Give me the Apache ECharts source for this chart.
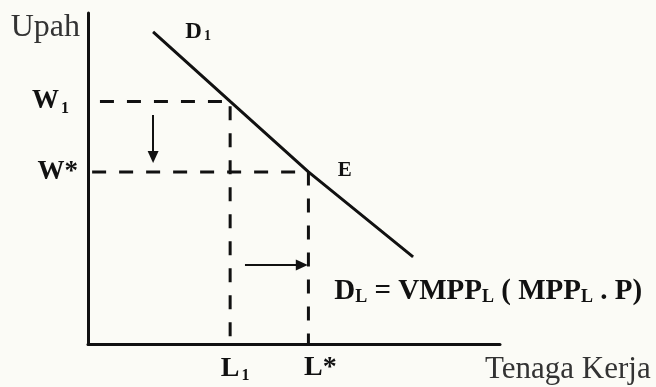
<!DOCTYPE html>
<html>
<head>
<meta charset="utf-8">
<script src="https://cdn.jsdelivr.net/npm/echarts@6/dist/echarts.min.js"></script>
<style>
  html, body { margin: 0; padding: 0; background: #fbfbf6; }
  #chart { width: 656px; height: 387px; }
</style>
</head>
<body>
<div id="chart"></div>
<script>
// values (axes run 0..10 on both sides)
const demandCurve = [[1.58, 9.43], [3.45, 7.33], [5.35, 5.2], [7.89, 2.63]];
const wageTicks = [7.33, 5.2];          // W1, W*
const wageLabels = ["W{s|1}{sp| }", "W*"];
const laborTicks = [3.45, 5.35];        // L1, L*
const laborLabels = ["{sp| }L{s|1}", "{sq| }L*"];
const guideStart = [0.29, 0.1];         // where the dashed wage lines begin
const wageDrop = [[1.58, 6.92], [1.58, 5.65]];
const laborShift = [[3.81, 2.39], [5.19, 2.39]];

const serif = "'Liberation Serif', 'Times New Roman', serif";
const ink = "#111";

const chart = echarts.init(document.getElementById("chart"));

const guides = wageTicks.map((w, i) => ({
  type: "line",
  silent: true,
  symbol: "none",
  lineStyle: { color: ink, width: 3, type: [14, 13] },
  data: [[guideStart[i], w], [laborTicks[i], w], [laborTicks[i], 0]],
}));

const option = {
  backgroundColor: "#fbfbf6",
  animation: false,
  grid: { left: 88, right: 156, top: 13, bottom: 43 },
  xAxis: {
    type: "value",
    min: 0,
    max: 10,
    name: "Tenaga Kerja",
    nameLocation: "end",
    nameGap: -15,
    nameTextStyle: {
      fontFamily: serif,
      fontSize: 31,
      color: "#333",
      align: "left",
      verticalAlign: "top",
      padding: [10, 0, 0, 0],
    },
    axisLine: { show: true, onZero: false, lineStyle: { color: ink, width: 3 } },
    axisTick: { show: false },
    splitLine: { show: false },
    axisLabel: {
      customValues: laborTicks,
      margin: 10,
      fontFamily: serif,
      fontWeight: "bold",
      fontSize: 28,
      color: ink,
      formatter: (v) => laborLabels[laborTicks.indexOf(v)] || "",
      rich: {
        s: { fontFamily: serif, fontWeight: "bold", fontSize: 16, padding: [14, 0, 0, 2] },
        sp: { width: 10 },
        sq: { width: 24 },
      },
    },
  },
  yAxis: {
    type: "value",
    min: 0,
    max: 10,
    name: "Upah",
    nameLocation: "end",
    nameGap: -15,
    nameTextStyle: {
      fontFamily: serif,
      fontSize: 32,
      color: "#333",
      align: "right",
      verticalAlign: "middle",
      padding: [0, 8, 0, 0],
    },
    axisLine: { show: true, onZero: false, lineStyle: { color: ink, width: 3 } },
    axisTick: { show: false },
    splitLine: { show: false },
    axisLabel: {
      customValues: wageTicks,
      margin: 10,
      fontFamily: serif,
      fontWeight: "bold",
      fontSize: 27,
      color: ink,
      formatter: (v) => wageLabels[wageTicks.indexOf(v)] || "",
      rich: {
        s: { fontFamily: serif, fontWeight: "bold", fontSize: 16, padding: [14, 0, 0, 2] },
        sp: { width: 9 },
      },
    },
  },
  series: [
    ...guides,
    {
      type: "line",
      silent: true,
      symbol: "none",
      lineStyle: { color: ink, width: 3 },
      data: demandCurve,
      markLine: {
        silent: true,
        symbol: ["none", "triangle"],
        symbolSize: [11, 12],
        label: { show: false },
        lineStyle: { color: ink, width: 2, type: "solid" },
        data: [
          [{ coord: wageDrop[0] }, { coord: wageDrop[1] }],
          [{ coord: laborShift[0] }, { coord: laborShift[1] }],
        ],
      },
    },
    {
      type: "scatter",
      silent: true,
      symbolSize: 0.5,
      itemStyle: { color: ink, opacity: 1 },
      label: { show: true, position: "right", fontFamily: serif, color: ink },
      data: [
        {
          value: demandCurve[0],
          label: {
            formatter: "D{s|1}",
            offset: [27, 0],
            fontSize: 23,
            fontWeight: "bold",
            color: ink,
            rich: { s: { fontFamily: serif, fontWeight: "bold", fontSize: 14, color: ink, padding: [9, 0, 0, 2] } },
          },
        },
        {
          value: demandCurve[2],
          label: { formatter: "E", offset: [24, -1], fontSize: 21, fontWeight: "bold", color: ink },
        },
        {
          value: demandCurve[3],
          label: {
            formatter: "D{s|L} = VMPP{s|L} ( MPP{s|L} . P)",
            offset: [-84, 35],
            fontSize: 29,
            fontWeight: "bold",
            color: ink,
            rich: { s: { fontFamily: serif, fontSize: 18, color: ink, padding: [10, 0, 0, 0] } },
          },
        },
      ],
    },
  ],
};

chart.setOption(option);
</script>
</body>
</html>
